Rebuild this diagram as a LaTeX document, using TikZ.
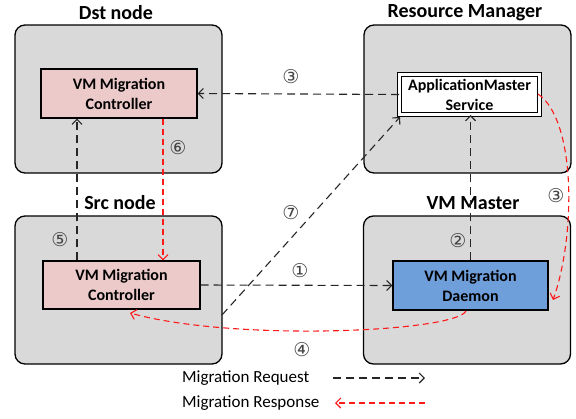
\documentclass[tikz,border=0pt]{standalone}
\usepackage{fontspec}
\setmainfont{Carlito}
\newfontfamily\circfont{DejaVu Sans}
\usetikzlibrary{arrows.meta}
\definecolor{boxgray}{HTML}{D9D9D9}
\definecolor{pinkfill}{HTML}{ECCACA}
\definecolor{bluefill}{HTML}{6F9FDB}
\definecolor{respred}{HTML}{FF1A1A}
\definecolor{numgray}{HTML}{444444}
\begin{document}
\begin{tikzpicture}[x=1pt,y=-1pt,
  outer/.style={draw=black, fill=boxgray, rounded corners=10pt, line width=1.3pt, minimum width=207pt, minimum height=148pt, inner sep=0pt},
  title/.style={font=\fontsize{20}{23}\selectfont\bfseries},
  inner/.style={draw=black, line width=1.2pt, align=center, inner sep=0pt, font=\fontsize{16}{20}\selectfont\bfseries},
  req/.style={draw=black!85, line width=1.1pt, dash pattern=on 8pt off 5pt, -{Straight Barb[length=5pt,width=10pt]}},
  resp/.style={draw=respred, line width=1.1pt, dash pattern=on 6pt off 4pt, -{Straight Barb[length=5pt,width=10pt]}},
  num/.style={font=\circfont\fontsize{19}{21}\selectfont, text=numgray, inner sep=0pt},
  legend/.style={font=\fontsize{17}{20}\selectfont, anchor=west, inner sep=0pt}
]
\useasboundingbox (0,0) rectangle (576,418);
% outer boxes
\node[outer] (dst) at (118.5,99) {};
\node[outer] (rm) at (467.5,99) {};
\node[outer] (src) at (118.5,290) {};
\node[outer] (vmm) at (467,290) {};
% titles
\node[title] (tdst) at (116,13) {Dst node};
\node[title] (trm) at (465,13) {Resource Manager};
\node[title] (tsrc) at (120,203) {Src node};
\node[title] (tvmm) at (473,203) {VM Master};
% inner boxes
\node[inner, fill=pinkfill, minimum width=156pt, minimum height=49pt] (dstc) at (119,93.5) {VM Migration\\Controller};
\node[inner, fill=white, double, double distance=2.5pt, line width=1pt, minimum width=140pt, minimum height=40pt] (ams) at (469.5,94.5) {ApplicationMaster\\Service};
\node[inner, fill=pinkfill, minimum width=157pt, minimum height=48pt] (srcc) at (121.5,285) {VM Migration\\Controller};
\node[inner, fill=bluefill, minimum width=155pt, minimum height=49pt] (daemon) at (470.5,285.5) {VM Migration\\Daemon};
% helper coordinates
\coordinate (x5) at (77,0);
\coordinate (x6) at (163,0);
\coordinate (s7) at (222,315);
\coordinate (e7) at (400,117);
\coordinate (a3) at (538,94);
\coordinate (d3) at (553,300);
\coordinate (s4) at (466,311);
\coordinate (e4) at (130,313);
% connectors
\draw[req] (ams.west) -- (dstc.east);
\draw[resp] (dstc.south -| x6) -- (srcc.north -| x6);
\draw[req] (srcc.north -| x5) -- (dstc.south -| x5);
\draw[req] (s7) -- (e7);
\draw[req] (srcc.east) -- (daemon.west);
\draw[req] (daemon.north) -- (daemon.north |- ams.south);
\draw[resp] (a3) .. controls (576,120) and (576,235) .. (d3);
\draw[resp] (s4) .. controls (455,332) and (235,342) .. (e4);
% numbers
\node[num] (n3a) at (291,77) {③};
\node[num] (n6) at (178,148) {⑥};
\node[num] (n5) at (60,240) {⑤};
\node[num] (n7) at (291,213) {⑦};
\node[num] (n1) at (300,271) {①};
\node[num] (n2) at (458,241) {②};
\node[num] (n3b) at (556,196) {③};
\node[num] (n4) at (302,350) {④};
% legend
\node[legend] (lreq) at (182,378) {Migration Request};
\node[legend] (lresp) at (182,403) {Migration Response};
\coordinate (lr1) at (333,378);
\coordinate (lr2) at (425,378);
\coordinate (lp1) at (425,403);
\coordinate (lp2) at (335,403);
\draw[req] (lr1) -- (lr2);
\draw[resp] (lp1) -- (lp2);
\end{tikzpicture}
\end{document}
